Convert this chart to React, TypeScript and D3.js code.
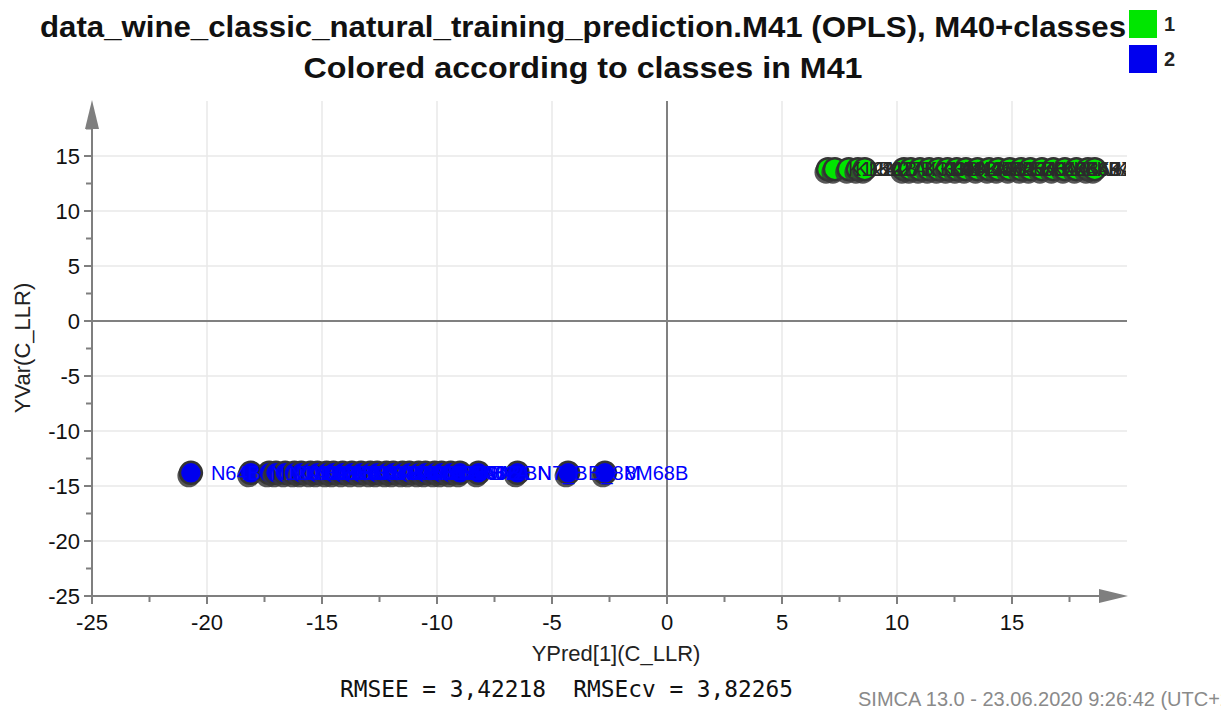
import { useEffect } from "react";
import { scaleLinear, range } from "d3";

const W = 1221;
const H = 715;
const M = { left: 92, right: 94, top: 101, bottom: 119 };

// class 1 (green) observations: YPred[1] and label
const class1Pred = [7.0, 7.3, 7.9, 8.3, 8.6, 10.3, 10.6, 11.0, 11.4, 11.8, 12.2, 12.6, 13.0, 13.5, 14.0, 14.4, 14.9, 15.4, 15.8, 16.3, 16.8, 17.3, 17.8, 18.3, 18.6];
const class1Labels = ["K12A", "K15A", "K21B", "K22A", "K27B", "K31A", "K33B", "K34A", "K38B", "K41A", "K43A", "K45B", "K47A", "K52B", "K55A", "K57B", "K58A", "K61A", "K62B", "K64A", "K66B", "K69A", "K71B", "K73A", "K75R"];
const class1YVar = 13.8;

// class 2 (blue) observations
const class2Pred = [-20.7, -18.1, -17.3, -17.0, -16.6, -16.2, -15.9, -15.5, -15.2, -14.8, -14.5, -14.1, -13.7, -13.3, -12.9, -12.6, -12.2, -11.9, -11.5, -11.2, -10.8, -10.5, -10.1, -9.8, -9.4, -9.0, -8.2, -6.5, -4.3, -2.7];
const class2Labels = ["N64B", "N12A", "N14B", "N17A", "N19B", "N22A", "N23B", "N26A", "N28B", "N31A", "N33B", "N35A", "N37B", "N39A", "N41B", "N43A", "N45B", "N47A", "N49B", "N51A", "N53B", "N55A", "N57B", "N59A", "N60B", "N62A", "N2BN", "N7_B", "B_8M", "8M68B"];
const class2YVar = -13.8;

const xTicks = [-25, -20, -15, -10, -5, 0, 5, 10, 15];
const yTicks = [-25, -20, -15, -10, -5, 0, 5, 10, 15];
const classes = [
  { name: "1", color: "#00e600" },
  { name: "2", color: "#0000ee" },
];

const FONT = "Liberation Sans, Arial, Helvetica, sans-serif";
const AXIS = "#7f7f7f";

export default function App() {
  useEffect(() => {
    document.body.style.margin = "0";
  }, []);

  const x = scaleLinear().domain([-25, 20]).range([M.left, W - M.right]);
  const y = scaleLinear().domain([-25, 20]).range([H - M.bottom, M.top]);

  const x0 = x(-25);
  const y0 = y(-25);
  const minorX = range(-25, 20, 2.5).filter((v) => !xTicks.includes(v));
  const minorY = range(-25, 20, 2.5).filter((v) => !yTicks.includes(v));

  const pts = [
    ...class1Pred.map((v, i) => ({ px: v, py: class1YVar, label: class1Labels[i], fill: classes[0].color, text: "#2a2a2a" })),
    ...class2Pred.map((v, i) => ({ px: v, py: class2YVar, label: class2Labels[i], fill: classes[1].color, text: "#0000ff" })),
  ];

  return (
    <svg width={W} height={H} style={{ display: "block", fontFamily: FONT }}>
      <rect width={W} height={H} fill="#fff" />
      <defs>
        <clipPath id="plot">
          <rect x={x0} y={M.top - 20} width={x(20) - x0 - 1} height={y0 - M.top + 20} />
        </clipPath>
      </defs>

      {/* titles */}
      <text x={583} y={37} textAnchor="middle" fontSize={30} fontWeight="bold" fill="#111"
        textLength={1086} lengthAdjust="spacingAndGlyphs">
        data_wine_classic_natural_training_prediction.M41 (OPLS), M40+classes
      </text>
      <text x={583} y={78} textAnchor="middle" fontSize={30} fontWeight="bold" fill="#111"
        textLength={559} lengthAdjust="spacingAndGlyphs">
        Colored according to classes in M41
      </text>

      {/* legend */}
      {classes.map((c, i) => (
        <g key={c.name}>
          <rect x={1129} y={10 + i * 35} width={28} height={28} fill={c.color} />
          <text x={1164} y={31 + i * 35} fontSize={20} fontWeight="bold" fill="#222">{c.name}</text>
        </g>
      ))}

      {/* grid */}
      {xTicks.filter((t) => t !== 0 && t !== -25).map((t) => (
        <line key={`gx${t}`} x1={x(t)} x2={x(t)} y1={M.top} y2={y0} stroke="#e8e8e8" strokeWidth={1.5} />
      ))}
      {yTicks.filter((t) => t !== 0 && t !== -25).map((t) => (
        <line key={`gy${t}`} x1={x0} x2={x(20)} y1={y(t)} y2={y(t)} stroke="#e8e8e8" strokeWidth={1.5} />
      ))}

      {/* zero lines */}
      <line x1={x(0)} x2={x(0)} y1={M.top} y2={y0} stroke="#808080" strokeWidth={2} />
      <line x1={x0} x2={x(20)} y1={y(0)} y2={y(0)} stroke="#808080" strokeWidth={2} />

      {/* axes */}
      <line x1={x0} x2={x0} y1={M.top + 10} y2={y0} stroke={AXIS} strokeWidth={2} />
      <line x1={x0} x2={x(20) - 10} y1={y0} y2={y0} stroke={AXIS} strokeWidth={2} />
      <path d={`M${x0},${M.top - 1} L${x0 - 7},${M.top + 28} L${x0 + 7},${M.top + 28} Z`} fill={AXIS} />
      <path d={`M${x(20) + 1},${y0} L${x(20) - 28},${y0 - 7} L${x(20) - 28},${y0 + 7} Z`} fill={AXIS} />

      {yTicks.map((t) => (
        <g key={`yt${t}`}>
          <line x1={x0 - 8} x2={x0} y1={y(t)} y2={y(t)} stroke={AXIS} strokeWidth={2} />
          <text x={x0 - 12} y={y(t)} dy="0.36em" textAnchor="end" fontSize={22} fill="#111">{t}</text>
        </g>
      ))}
      {minorY.map((t) => (
        <line key={`my${t}`} x1={x0 - 6} x2={x0} y1={y(t)} y2={y(t)} stroke={AXIS} strokeWidth={2} />
      ))}
      {xTicks.map((t) => (
        <g key={`xt${t}`}>
          <line x1={x(t)} x2={x(t)} y1={y0} y2={y0 + 8} stroke={AXIS} strokeWidth={2} />
          <text x={x(t)} y={y0 + 34} textAnchor="middle" fontSize={22} fill="#111">{t}</text>
        </g>
      ))}
      {minorX.map((t) => (
        <line key={`mx${t}`} x1={x(t)} x2={x(t)} y1={y0} y2={y0 + 6} stroke={AXIS} strokeWidth={2} />
      ))}

      <text x={616} y={661} textAnchor="middle" fontSize={22} fill="#222">YPred[1](C_LLR)</text>
      <text transform={`translate(30,348) rotate(-90)`} textAnchor="middle" fontSize={22} fill="#222">YVar(C_LLR)</text>

      {/* observations: all circles first, labels on top */}
      <g clipPath="url(#plot)">
        {pts.map((p, i) => (
          <g key={`c${i}`}>
            <circle cx={x(p.px) - 2} cy={y(p.py) + 3} r={11.5} fill="#3a3a3a" opacity={0.85} />
            <circle cx={x(p.px)} cy={y(p.py)} r={11} fill={p.fill} stroke="#333" strokeWidth={2.5} />
          </g>
        ))}
        {pts.map((p, i) => (
          <text key={`l${i}`} x={x(p.px) + 20} y={y(p.py)} dy="0.36em" fontSize={20} fill={p.text}>{p.label}</text>
        ))}
      </g>

      {/* footer */}
      <text x={340} y={697} fontSize={22.8} fontFamily="DejaVu Sans Mono, monospace" fill="#111" style={{ whiteSpace: "pre" }}>
        {"RMSEE = 3,42218  RMSEcv = 3,82265"}
      </text>
      <text x={858} y={706} fontSize={20} fill="#8a8a8a">SIMCA 13.0 - 23.06.2020 9:26:42 (UTC+2)</text>
    </svg>
  );
}
